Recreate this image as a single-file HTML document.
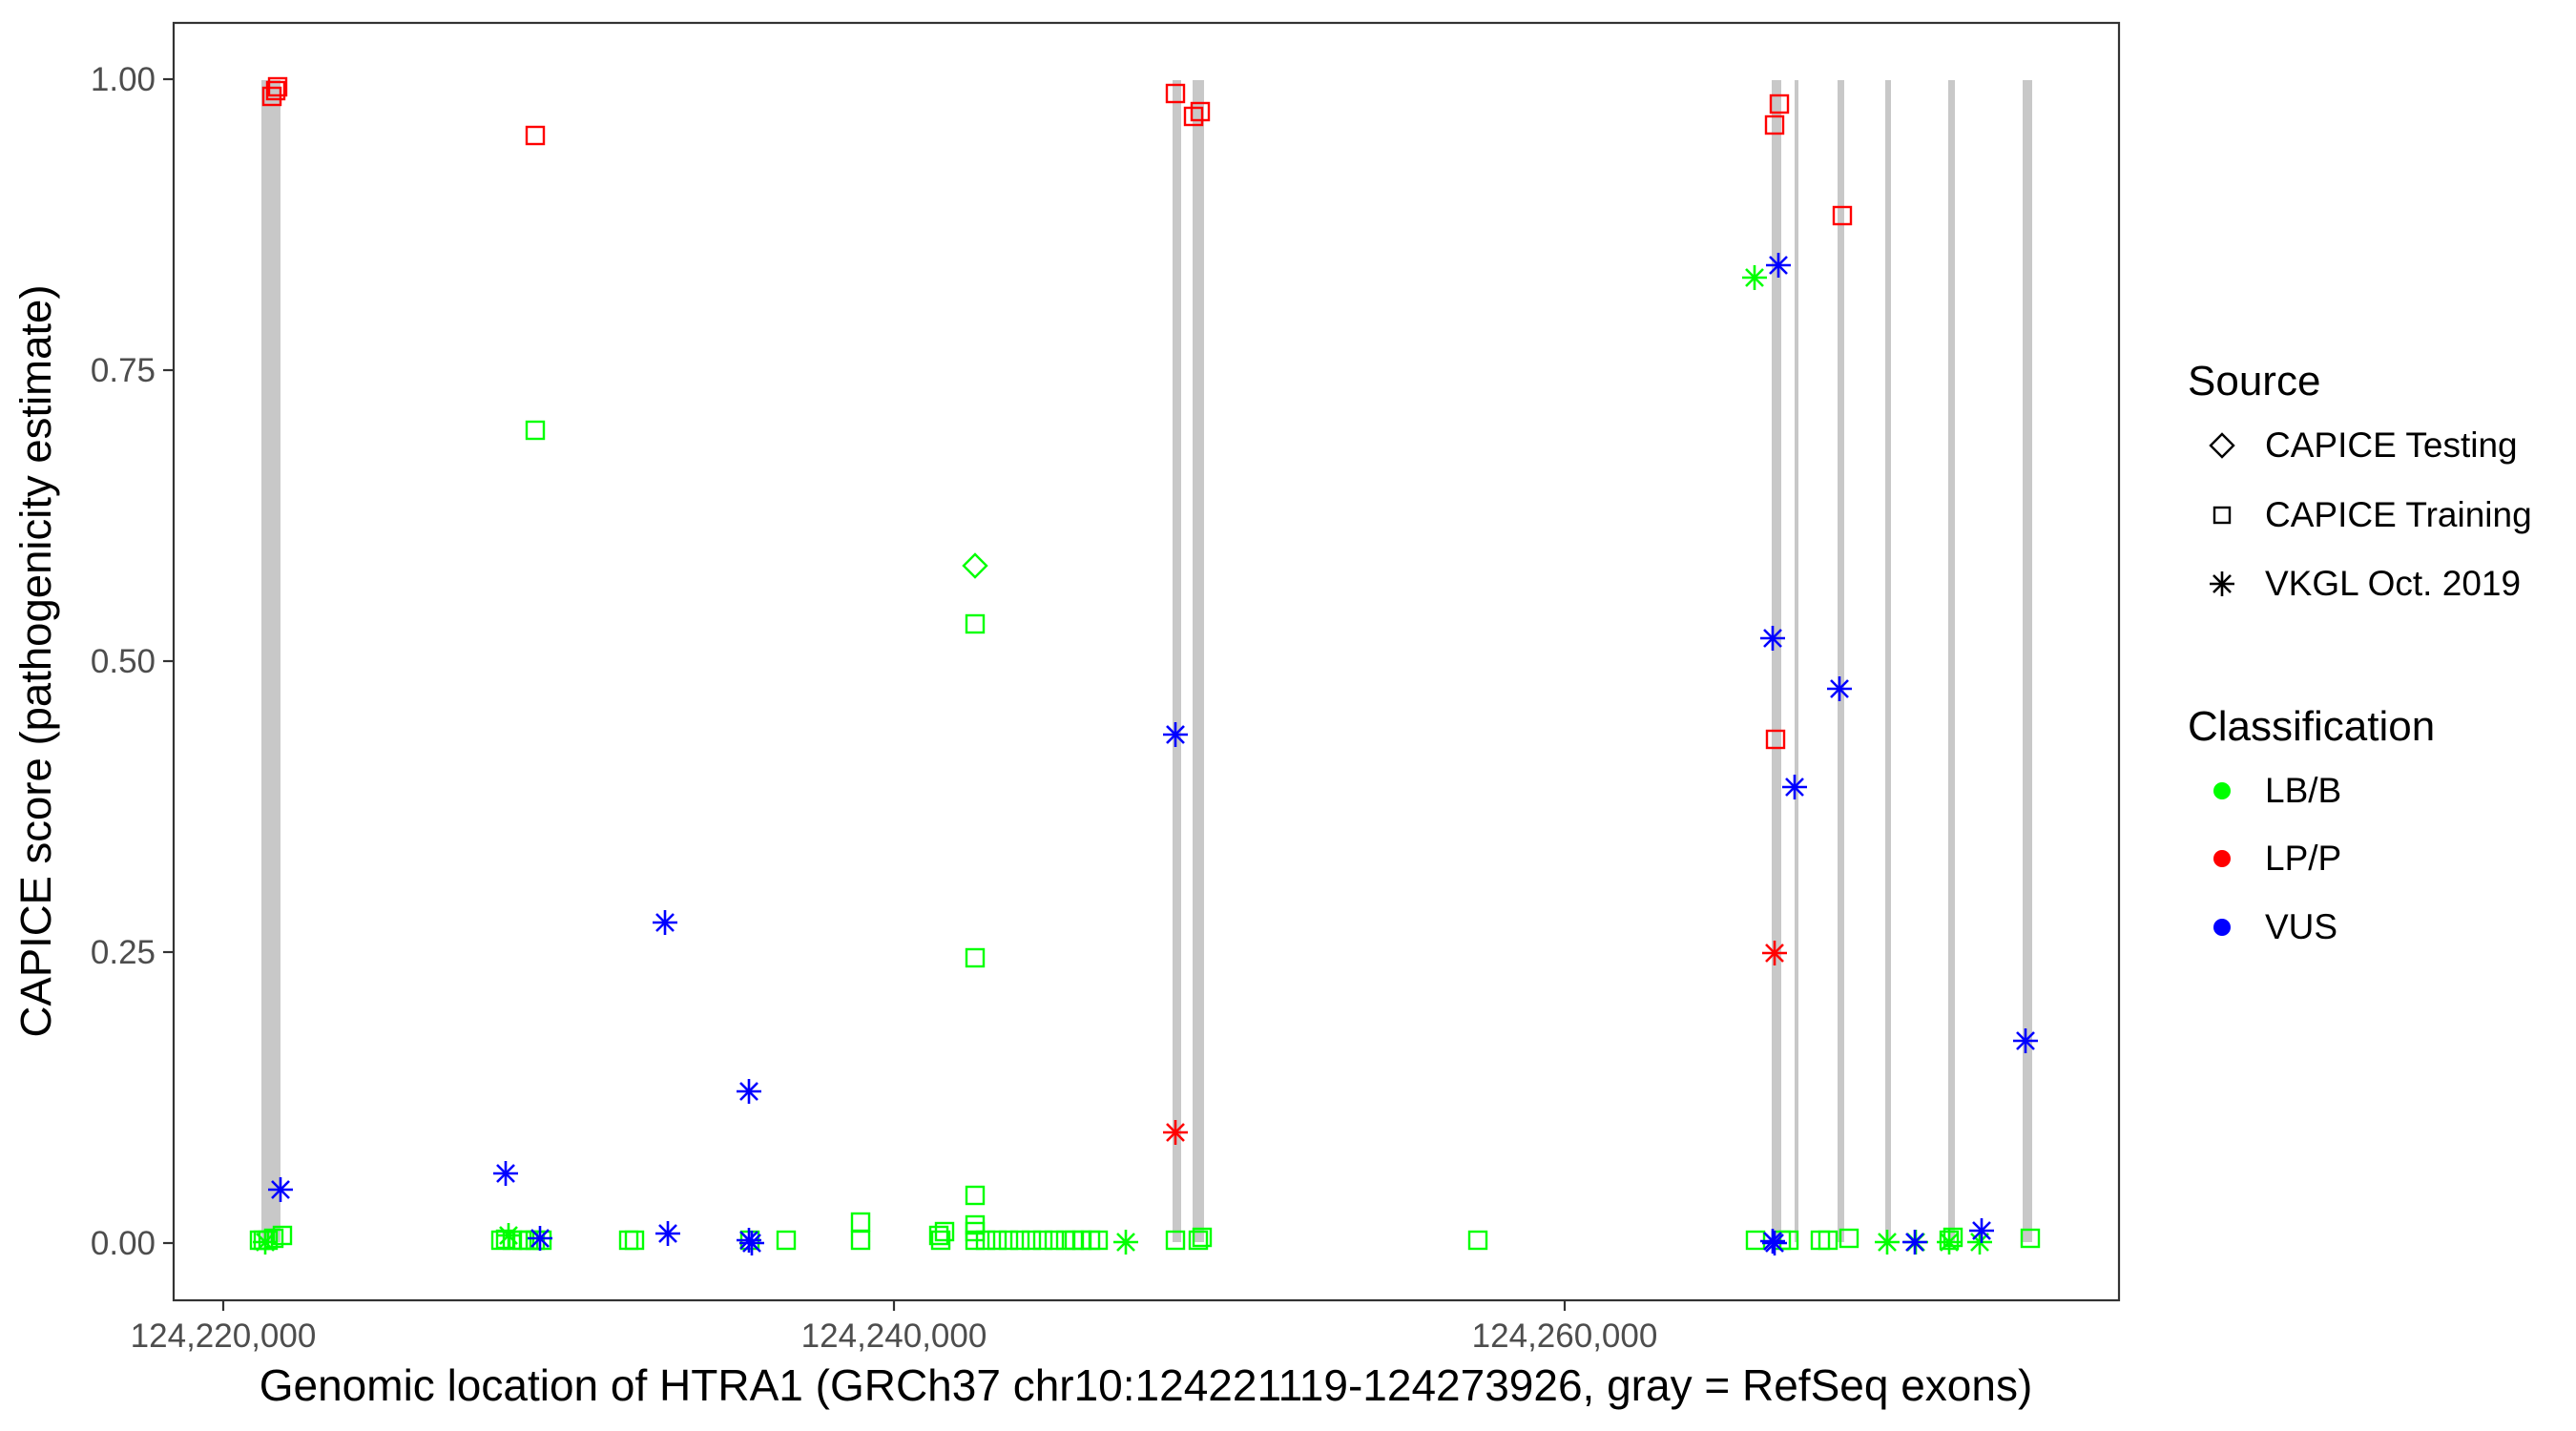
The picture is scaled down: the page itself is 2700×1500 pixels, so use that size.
<!DOCTYPE html>
<html><head><meta charset="utf-8"><style>
html,body{margin:0;padding:0;background:#fff;}
svg{display:block;}
</style></head><body>
<svg width="2700" height="1500" viewBox="0 0 2700 1500" xmlns="http://www.w3.org/2000/svg" font-family="Liberation Sans, Arial, sans-serif">
<defs>
<rect id="sq" x="-9" y="-9" width="18" height="18" fill="none" stroke-width="2.4"/>
<g id="as" stroke-width="2.6"><line x1="-13" y1="0" x2="13" y2="0"/><line x1="0" y1="-13" x2="0" y2="13"/><line x1="-9" y1="-9" x2="9" y2="9"/><line x1="-9" y1="9" x2="9" y2="-9"/></g>
<path id="dm" d="M0,-12 L12,0 L0,12 L-12,0 Z" fill="none" stroke-width="2.4"/>
</defs>
<rect width="2700" height="1500" fill="#fff"/>
<g fill="#c8c8c8">
<rect x="274" y="84" width="20" height="1218"/>
<rect x="1229" y="84" width="9" height="1218"/>
<rect x="1250" y="84" width="12" height="1218"/>
<rect x="1857" y="84" width="10" height="1218"/>
<rect x="1881" y="84" width="4" height="1218"/>
<rect x="1926" y="84" width="7" height="1218"/>
<rect x="1976" y="84" width="6" height="1218"/>
<rect x="2042" y="84" width="7" height="1218"/>
<rect x="2120" y="84" width="10" height="1218"/>
</g>
<g stroke="#00ff00">
<use href="#sq" x="276" y="1300"/><use href="#sq" x="281" y="1300"/><use href="#sq" x="287" y="1298"/><use href="#sq" x="296" y="1295"/><use href="#sq" x="272" y="1300"/>
<use href="#sq" x="525" y="1300"/><use href="#sq" x="530" y="1299"/><use href="#sq" x="537" y="1300"/><use href="#sq" x="547" y="1300"/><use href="#sq" x="554" y="1300"/><use href="#sq" x="561" y="1300"/><use href="#sq" x="568" y="1300"/><use href="#sq" x="561" y="451"/>
<use href="#sq" x="659" y="1300"/><use href="#sq" x="665" y="1300"/>
<use href="#sq" x="786" y="1300"/><use href="#sq" x="824" y="1300"/>
<use href="#sq" x="902" y="1281"/><use href="#sq" x="902" y="1300"/>
<use href="#sq" x="984" y="1295"/><use href="#sq" x="990" y="1291"/><use href="#sq" x="986" y="1300"/>
<use href="#sq" x="1022" y="654"/><use href="#sq" x="1022" y="1004"/><use href="#sq" x="1022" y="1253"/><use href="#sq" x="1022" y="1284"/><use href="#sq" x="1022" y="1291"/><use href="#sq" x="1022" y="1300"/>
<use href="#sq" x="1033" y="1300"/><use href="#sq" x="1045" y="1300"/><use href="#sq" x="1057" y="1300"/><use href="#sq" x="1069" y="1300"/><use href="#sq" x="1081" y="1300"/><use href="#sq" x="1093" y="1300"/><use href="#sq" x="1105" y="1300"/><use href="#sq" x="1117" y="1300"/><use href="#sq" x="1126" y="1300"/><use href="#sq" x="1134" y="1300"/><use href="#sq" x="1143" y="1300"/><use href="#sq" x="1151" y="1300"/>
<use href="#sq" x="1232" y="1300"/><use href="#sq" x="1256" y="1300"/><use href="#sq" x="1260" y="1297"/>
<use href="#sq" x="1549" y="1300"/>
<use href="#sq" x="1840" y="1300"/><use href="#sq" x="1867" y="1300"/><use href="#sq" x="1875" y="1300"/><use href="#sq" x="1908" y="1300"/><use href="#sq" x="1916" y="1300"/><use href="#sq" x="1938" y="1298"/>
<use href="#sq" x="2043" y="1300"/><use href="#sq" x="2047" y="1297"/><use href="#sq" x="2128" y="1298"/>
</g>
<g stroke="#00ff00"><use href="#dm" x="1022" y="593"/></g>
<g stroke="#ff0000">
<use href="#sq" x="285" y="101"/><use href="#sq" x="289" y="95"/><use href="#sq" x="291" y="91"/>
<use href="#sq" x="561" y="142"/>
<use href="#sq" x="1232" y="98"/><use href="#sq" x="1251" y="122"/><use href="#sq" x="1258" y="117"/>
<use href="#sq" x="1865" y="109"/><use href="#sq" x="1860" y="131"/><use href="#sq" x="1931" y="226"/><use href="#sq" x="1861" y="775"/>
</g>
<g stroke="#00ff00">
<use href="#as" x="278" y="1302"/><use href="#as" x="533" y="1295"/><use href="#as" x="1180" y="1302"/><use href="#as" x="1839" y="291"/><use href="#as" x="1978" y="1302"/><use href="#as" x="2008" y="1302"/><use href="#as" x="2075" y="1302"/><use href="#as" x="2043" y="1302"/>
</g>
<g stroke="#ff0000">
<use href="#as" x="1232" y="1187"/><use href="#as" x="1860" y="999"/>
</g>
<g stroke="#0000ff">
<use href="#as" x="294" y="1247"/><use href="#as" x="530" y="1230"/><use href="#as" x="566" y="1298"/><use href="#as" x="697" y="967"/><use href="#as" x="700" y="1293"/>
<use href="#as" x="785" y="1144"/><use href="#as" x="785" y="1300"/><use href="#as" x="788" y="1303"/>
<use href="#as" x="1232" y="770"/>
<use href="#as" x="1864" y="278"/><use href="#as" x="1858" y="669"/><use href="#as" x="1881" y="825"/><use href="#as" x="1928" y="722"/><use href="#as" x="2123" y="1091"/>
<use href="#as" x="1858" y="1301"/><use href="#as" x="1860" y="1303"/><use href="#as" x="2007" y="1302"/><use href="#as" x="2077" y="1290"/>
</g>
<rect x="182" y="24" width="2039" height="1339" fill="none" stroke="#333" stroke-width="2.2"/>
<g stroke="#333" stroke-width="2.2">
<line x1="171" y1="83" x2="182" y2="83"/><line x1="171" y1="388" x2="182" y2="388"/><line x1="171" y1="693" x2="182" y2="693"/><line x1="171" y1="998" x2="182" y2="998"/><line x1="171" y1="1303" x2="182" y2="1303"/>
<line x1="234" y1="1363" x2="234" y2="1374"/><line x1="937" y1="1363" x2="937" y2="1374"/><line x1="1640" y1="1363" x2="1640" y2="1374"/>
</g>
<g fill="#4d4d4d" font-size="35" text-anchor="end">
<text x="163" y="95">1.00</text><text x="163" y="400">0.75</text><text x="163" y="705">0.50</text><text x="163" y="1010">0.25</text><text x="163" y="1315">0.00</text>
</g>
<g fill="#4d4d4d" font-size="35" text-anchor="middle">
<text x="234" y="1412">124,220,000</text><text x="937" y="1412">124,240,000</text><text x="1640" y="1412">124,260,000</text>
</g>
<text x="1201" y="1468" font-size="46" text-anchor="middle" fill="#000">Genomic location of HTRA1 (GRCh37 chr10:124221119-124273926, gray = RefSeq exons)</text>
<text transform="translate(53,693) rotate(-90)" font-size="45.5" text-anchor="middle" fill="#000">CAPICE score (pathogenicity estimate)</text>
<g font-size="44" fill="#000"><text x="2293" y="414">Source</text><text x="2293" y="776">Classification</text></g>
<g font-size="37" fill="#000">
<text x="2374" y="479">CAPICE Testing</text><text x="2374" y="552">CAPICE Training</text><text x="2374" y="624">VKGL Oct. 2019</text>
<text x="2374" y="841">LB/B</text><text x="2374" y="912">LP/P</text><text x="2374" y="984">VUS</text>
</g>
<g stroke="#000"><use href="#dm" x="2329" y="467"/><rect x="2321" y="532" width="16" height="16" fill="none" stroke-width="2.4"/><use href="#as" x="2329" y="612"/></g>
<circle cx="2329" cy="829" r="9" fill="#00ff00"/><circle cx="2329" cy="900" r="9" fill="#ff0000"/><circle cx="2329" cy="972" r="9" fill="#0000ff"/>
</svg>
</body></html>
